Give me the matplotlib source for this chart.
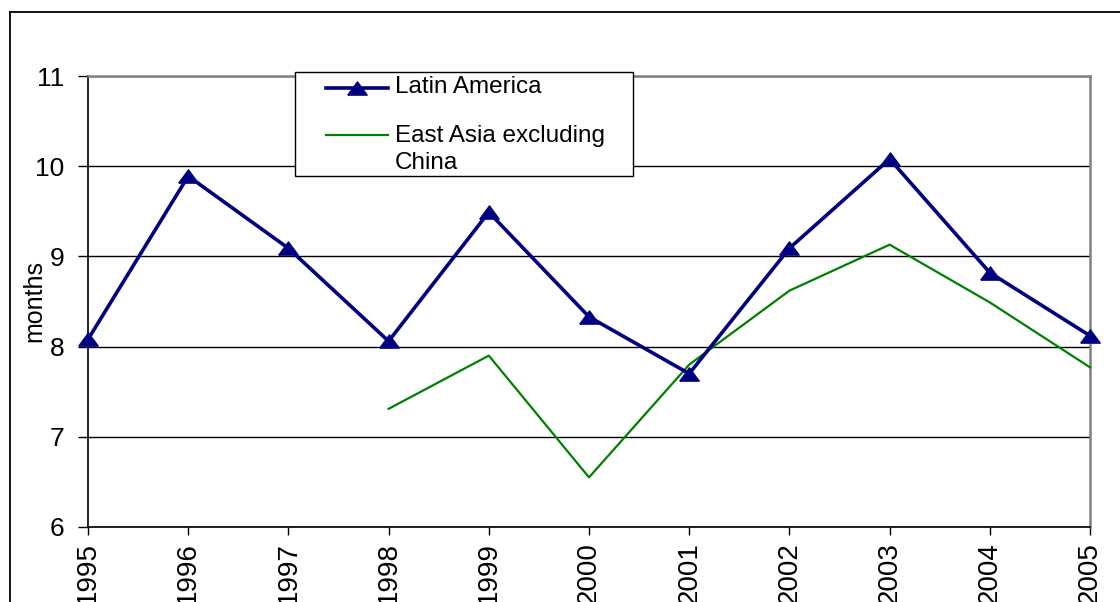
import matplotlib.pyplot as plt
from matplotlib.lines import Line2D
from matplotlib.patches import Rectangle

years = [1995, 1996, 1997, 1998, 1999, 2000, 2001, 2002, 2003, 2004, 2005]
latin_america = [8.08, 9.89, 9.09, 8.06, 9.49, 8.33, 7.70, 9.09, 10.08, 8.82, 8.12]
east_asia_years = [1998, 1999, 2000, 2001, 2002, 2003, 2004, 2005]
east_asia = [7.31, 7.90, 6.55, 7.80, 8.62, 9.13, 8.49, 7.77]
series_names = ['Latin America', 'East Asia excluding\nChina']

plt.rcParams['font.family'] = ['Liberation Sans', 'DejaVu Sans']

W, H = 1120, 602
fig = plt.figure(figsize=(W / 100, H / 100), dpi=100)


def fx(px):
    return px / W


def fy(py):
    return 1 - py / H


ax = fig.add_axes([fx(88), fy(527), (1090 - 88) / W, (527 - 76) / H])

# flat triangle like the Excel marker
tri = [(-1, -0.68), (1, -0.68), (0, 0.68), (-1, -0.68)]
navy = '#000080'
green = '#008000'

# outer chart border (only top and left visible, rest is cropped)
fig.add_artist(Line2D([fx(9.5), fx(9.5)], [0, fy(12)], transform=fig.transFigure, color='black', lw=1.3))
fig.add_artist(Line2D([fx(9.5), 1], [fy(12), fy(12)], transform=fig.transFigure, color='black', lw=1.3))

ax.plot(years, latin_america, color=navy, lw=2.6, marker=tri, markersize=14,
        zorder=4, clip_on=False)
ax.plot(east_asia_years, east_asia, color=green, lw=1.6, zorder=3, clip_on=False)

ax.set_xlim(1995, 2005)
ax.set_ylim(6, 11)
ax.set_xticks(years)
ax.set_xticklabels([str(y) for y in years], rotation=90, fontsize=20)
ax.set_yticks([6, 7, 8, 9, 10, 11])
ax.tick_params(axis='y', labelsize=19, length=7, width=1, direction='out', pad=10)
ax.tick_params(axis='x', length=6, width=1, direction='out', pad=5)

ax.yaxis.grid(True, color='black', lw=1)
ax.set_axisbelow(True)
for side in ['top', 'right']:
    ax.spines[side].set_color('#808080')
    ax.spines[side].set_linewidth(1.8)
ax.spines['left'].set_linewidth(1.2)
ax.spines['bottom'].set_linewidth(1.2)

ax.set_ylabel('months', fontsize=18)
ax.yaxis.set_label_coords((46 - 88) / 1002, 0.5)

# legend box drawn by hand so the handles sit on the first text line
fig.add_artist(Rectangle((fx(295), fy(176)), (633 - 295) / W, (176 - 72) / H,
                         transform=fig.transFigure, facecolor='white', edgecolor='black',
                         lw=1.0, zorder=5))
fig.add_artist(Line2D([fx(326), fx(388)], [fy(88), fy(88)], transform=fig.transFigure,
                      color=navy, lw=2.6, zorder=6))
fig.add_artist(Line2D([fx(357)], [fy(88)], transform=fig.transFigure, color=navy,
                      marker=tri, markersize=14, lw=0, zorder=6))
fig.add_artist(Line2D([fx(326), fx(388)], [fy(135), fy(135)], transform=fig.transFigure,
                      color=green, lw=1.6, zorder=6))
fig.text(fx(395), fy(93), series_names[0], fontsize=17.5, va='baseline', ha='left', zorder=7)
for i, line in enumerate(series_names[1].split('\n')):
    fig.text(fx(395), fy(142 + 27 * i), line, fontsize=17.5, va='baseline', ha='left', zorder=7)

fig.savefig('out.png', dpi=100)
